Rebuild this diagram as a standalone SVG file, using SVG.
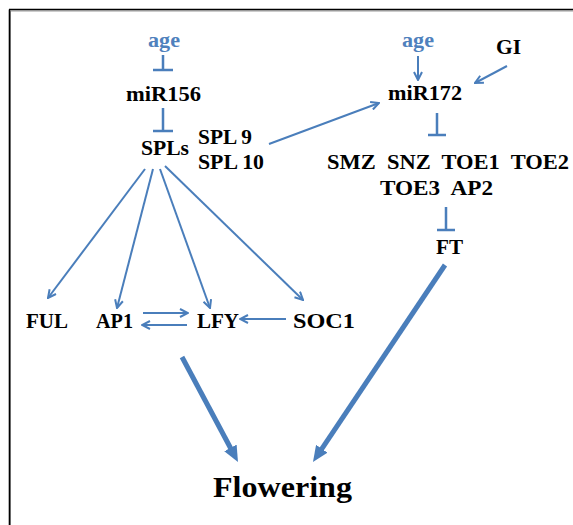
<svg xmlns="http://www.w3.org/2000/svg" width="573" height="525" viewBox="0 0 573 525">
  <style>
    .lbl { font-family: "Liberation Serif", "Times New Roman", serif; font-weight: bold; font-size: 20px; fill: #000; }
    .age { fill: #4f81bd; font-size: 21px; }
    .big { font-size: 30px; }
    .ln { stroke: #4a7ebb; stroke-width: 2; fill: none; }
    .inh { stroke: #4a7ebb; stroke-width: 2.5; fill: none; }
    .thick { stroke: #4a7ebb; stroke-width: 5; fill: none; }
  </style>
  <defs>
    <marker id="open" viewBox="0 0 10 10" refX="9" refY="5" markerWidth="10" markerHeight="10" markerUnits="userSpaceOnUse" orient="auto">
      <path d="M1,1 L9,5 L1,9" fill="none" stroke="#4a7ebb" stroke-width="2"/>
    </marker>
    <marker id="solid" viewBox="0 0 16 14" refX="5" refY="7" markerWidth="16" markerHeight="14" markerUnits="userSpaceOnUse" orient="auto">
      <path d="M0,0 L16,7 L0,14 z" fill="#4a7ebb"/>
    </marker>
  </defs>

  <rect width="573" height="525" fill="#fff"/>
  <!-- frame (top and left edges) -->
  <path d="M10.5,11 V525 M10.5,11 H573" stroke="#999" stroke-width="1"/>
  <path d="M9.5,9.5 V525 M9,9.5 H573" stroke="#000" stroke-width="1.6"/>

  <!-- connectors -->
  <g id="connectors">
    <!-- inhibition: age -| miR156 -| SPLs -->
    <path class="inh" d="M163,55 V70 M153,70 H173"/>
    <path class="inh" d="M163,108 V131 M153,131 H173"/>
    <!-- SPL9/10 -> miR172 -->
    <line class="ln" x1="269" y1="144" x2="379" y2="103" marker-end="url(#open)"/>
    <!-- age -> miR172, GI -> miR172 -->
    <line class="ln" x1="418" y1="56" x2="418" y2="80" marker-end="url(#open)"/>
    <line class="ln" x1="507" y1="66" x2="475" y2="83" marker-end="url(#open)"/>
    <!-- miR172 -| targets -| FT -->
    <path class="inh" d="M437,113 V135 M428,135 H446"/>
    <path class="inh" d="M446,207 V230 M437,230 H455"/>
    <!-- SPLs -> floral genes -->
    <line class="ln" x1="145" y1="169" x2="48" y2="298" marker-end="url(#open)"/>
    <line class="ln" x1="153" y1="169" x2="117" y2="308" marker-end="url(#open)"/>
    <line class="ln" x1="160" y1="169" x2="210" y2="308" marker-end="url(#open)"/>
    <line class="ln" x1="165" y1="166" x2="303" y2="300" marker-end="url(#open)"/>
    <!-- AP1 <-> LFY, SOC1 -> LFY -->
    <line class="ln" x1="143" y1="313" x2="188" y2="313" marker-end="url(#open)"/>
    <line class="ln" x1="187" y1="325" x2="142" y2="325" marker-end="url(#open)"/>
    <line class="ln" x1="286" y1="319" x2="240" y2="319" marker-end="url(#open)"/>
    <!-- to Flowering -->
    <line class="thick" x1="182" y1="357" x2="232.8" y2="452.3" marker-end="url(#solid)"/>
    <line class="thick" x1="445" y1="265" x2="319.1" y2="452.9" marker-end="url(#solid)"/>
  </g>

  <!-- nodes -->
  <g id="age1"><text class="lbl age" x="148" y="47" textLength="32" lengthAdjust="spacingAndGlyphs">age</text></g>
  <g id="miR156"><text class="lbl" x="126" y="101" textLength="75" lengthAdjust="spacingAndGlyphs">miR156</text></g>
  <g id="SPLs"><text class="lbl" x="141" y="155" textLength="48" lengthAdjust="spacingAndGlyphs">SPLs</text></g>
  <g id="SPL9"><text class="lbl" x="198" y="144" textLength="54" lengthAdjust="spacingAndGlyphs">SPL 9</text></g>
  <g id="SPL10"><text class="lbl" x="198" y="169" textLength="66" lengthAdjust="spacingAndGlyphs">SPL 10</text></g>
  <g id="age2"><text class="lbl age" x="402" y="47" textLength="32" lengthAdjust="spacingAndGlyphs">age</text></g>
  <g id="GI"><text class="lbl" x="496" y="54" textLength="25" lengthAdjust="spacingAndGlyphs">GI</text></g>
  <g id="miR172"><text class="lbl" x="388" y="100" textLength="74" lengthAdjust="spacingAndGlyphs">miR172</text></g>
  <g id="targets">
    <text class="lbl" x="327" y="169" textLength="242" lengthAdjust="spacingAndGlyphs" xml:space="preserve">SMZ  SNZ  TOE1  TOE2</text>
    <text class="lbl" x="380" y="195" textLength="113" lengthAdjust="spacingAndGlyphs" xml:space="preserve">TOE3  AP2</text>
  </g>
  <g id="FT"><text class="lbl" x="436" y="254" textLength="27" lengthAdjust="spacingAndGlyphs">FT</text></g>
  <g id="FUL"><text class="lbl" x="26" y="328" textLength="42" lengthAdjust="spacingAndGlyphs">FUL</text></g>
  <g id="AP1"><text class="lbl" x="96" y="328" textLength="37" lengthAdjust="spacingAndGlyphs">AP1</text></g>
  <g id="LFY"><text class="lbl" x="197" y="328" textLength="42" lengthAdjust="spacingAndGlyphs">LFY</text></g>
  <g id="SOC1"><text class="lbl" x="293" y="328" textLength="62" lengthAdjust="spacingAndGlyphs">SOC1</text></g>
  <g id="Flowering"><text class="lbl big" x="213" y="497" textLength="139" lengthAdjust="spacingAndGlyphs">Flowering</text></g>
</svg>
